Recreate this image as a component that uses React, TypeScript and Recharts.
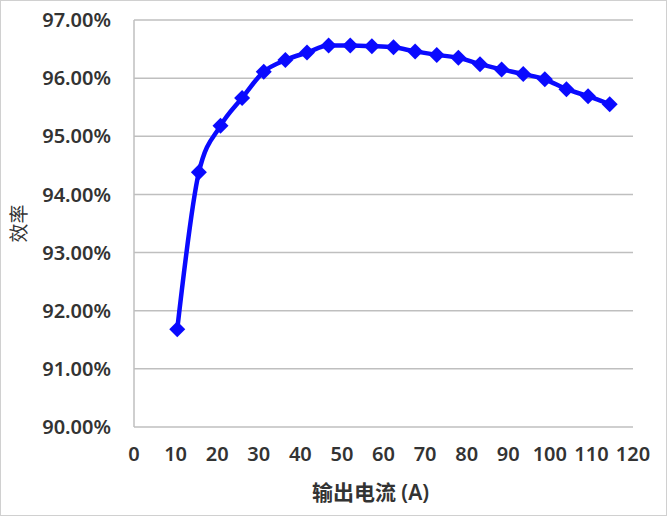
import React from "react";
import {
  LineChart,
  Line,
  XAxis,
  YAxis,
  CartesianGrid,
  Label,
} from "recharts";

// output current (A)
const currents = [
  10.4, 15.6, 20.8, 26.0, 31.2, 36.4, 41.6, 46.8, 52.0, 57.2, 62.4,
  67.6, 72.8, 78.0, 83.2, 88.4, 93.6, 98.8, 104.0, 109.2, 114.4,
];
// efficiency (%)
const efficiency = [
  91.68, 94.38, 95.18, 95.66, 96.11, 96.31, 96.44, 96.56, 96.56, 96.55, 96.53,
  96.46, 96.4, 96.35, 96.24, 96.15, 96.07, 95.98, 95.81, 95.69, 95.55,
];

const xTicks = [0, 10, 20, 30, 40, 50, 60, 70, 80, 90, 100, 110, 120];
const yTicks = [90, 91, 92, 93, 94, 95, 96, 97];

const data = currents.map((x, i) => ({ x, eff: efficiency[i] }));

const FONT = '"Noto Sans", "Noto Sans CJK SC", sans-serif';
const TEXT = "#333333";
const BLUE = "#0a0aff";

const Diamond = (props: any) => {
  const { cx, cy } = props;
  if (cx == null || cy == null) return null;
  const r = 8;
  return (
    <polygon
      points={`${cx},${cy - r} ${cx + r},${cy} ${cx},${cy + r} ${cx - r},${cy}`}
      fill={BLUE}
    />
  );
};

export default function App() {
  return (
    <div
      style={{
        position: "absolute",
        left: 0,
        top: 0,
        width: 665,
        height: 514,
        border: "1px solid #d0d0d0",
        background: "#fff",
        fontFamily: FONT,
      }}
    >
      <LineChart
        width={665}
        height={514}
        data={data}
        margin={{ top: 19, right: 33, bottom: 58, left: 0 }}
      >
        <CartesianGrid vertical={false} stroke="#bfbfbf" strokeWidth={1.5} />
        <XAxis
          type="number"
          dataKey="x"
          domain={[0, 120]}
          ticks={xTicks}
          interval={0}
          height={30}
          axisLine={false}
          tickLine={false}
          tickMargin={14}
          tick={{ fontSize: 20, fill: TEXT, fontFamily: FONT, fontWeight: 600 }}
        >
          <Label
            value="输出电流 (A)"
            position="bottom"
            offset={28}
            dx={-13}
            style={{ fontSize: 21, fill: TEXT, fontFamily: FONT, fontWeight: 600 }}
          />
        </XAxis>
        <YAxis
          type="number"
          domain={[90, 97]}
          ticks={yTicks}
          interval={0}
          width={133}
          axisLine={{ stroke: "#bfbfbf", strokeWidth: 1.5 }}
          tickLine={false}
          tickMargin={17}
          tickFormatter={(v: number) => v.toFixed(2) + "%"}
          tick={{ fontSize: 20, fill: TEXT, fontFamily: FONT, fontWeight: 600 }}
        >
          <Label
            value="效率"
            angle={-90}
            position="insideLeft"
            offset={18}
            style={{ fontSize: 19, fill: TEXT, fontFamily: FONT, textAnchor: "middle" }}
          />
        </YAxis>
        <Line
          type="monotone"
          dataKey="eff"
          stroke={BLUE}
          strokeWidth={4.5}
          dot={<Diamond />}
          activeDot={false}
          isAnimationActive={false}
        />
      </LineChart>
    </div>
  );
}
